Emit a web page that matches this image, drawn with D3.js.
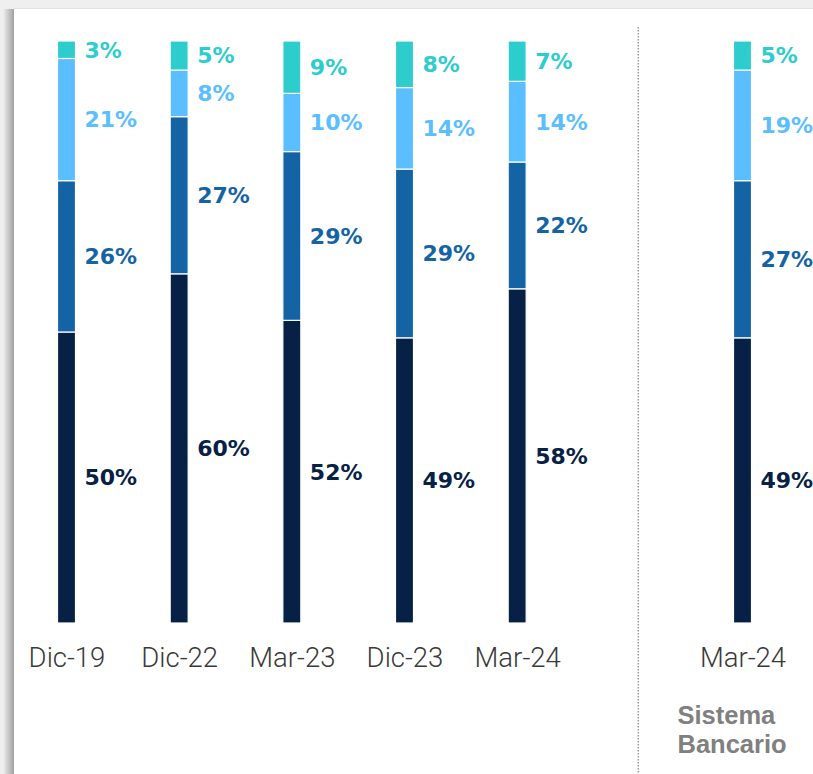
<!DOCTYPE html>
<html><head><meta charset="utf-8">
<script src="https://cdn.jsdelivr.net/npm/d3@7"></script>
<style>
html,body{margin:0;padding:0;background:#efefef;}
svg{display:block;}
</style></head>
<body>
<svg id="chart" width="813" height="774"></svg>
<script>
// Categories (keys) and their axis labels; "gap" is an empty slot before the banking-system bar
const categories = ["Dic-19", "Dic-22", "Mar-23", "Dic-23", "Mar-24", "gap", "SB-Mar-24"];
const tickLabels = ["Dic-19", "Dic-22", "Mar-23", "Dic-23", "Mar-24", "", "Mar-24"];
const barCategories = ["Dic-19", "Dic-22", "Mar-23", "Dic-23", "Mar-24", "SB-Mar-24"];
// Series values (%), bottom to top
const seriesKeys = ["s1", "s2", "s3", "s4"];
const s1 = [50, 60, 52, 49, 58, 49];
const s2 = [26, 27, 29, 29, 22, 27];
const s3 = [21, 8, 10, 14, 14, 19];
const s4 = [3, 5, 9, 8, 7, 5];
const groupTitle = ["Sistema", "Bancario"];

const colors = {s1: "#072146", s2: "#1464A5", s3: "#5BBEFF", s4: "#2DCCCD"};

const rows = barCategories.map((c, i) => ({cat: c, s1: s1[i], s2: s2[i], s3: s3[i], s4: s4[i]}));

const svg = d3.select("#chart");
const W = 813, H = 774;

// background frame: gray page with white panel + left shadow
const defs = svg.append("defs");
const grad = defs.append("linearGradient").attr("id", "shadow").attr("x1", 0).attr("x2", 1);
grad.append("stop").attr("offset", "0%").attr("stop-color", "#efefef");
grad.append("stop").attr("offset", "100%").attr("stop-color", "#a0a0a0");
svg.append("rect").attr("width", W).attr("height", H).attr("fill", "#efefef");
svg.append("rect").attr("x", 3).attr("y", 9).attr("width", 11).attr("height", H).attr("fill", "url(#shadow)");
svg.append("rect").attr("x", 14).attr("y", 9).attr("width", W).attr("height", H).attr("fill", "#fff");
svg.append("line").attr("x1", 14).attr("x2", W).attr("y1", 8.5).attr("y2", 8.5).attr("stroke", "#e2e2e2");

const x = d3.scalePoint().domain(categories).range([66.5, 742.5]);
const y = d3.scaleLinear().domain([0, 1]).range([623, 41]);
const barW = 18;

const stack = d3.stack().keys(seriesKeys).offset(d3.stackOffsetExpand);
const stacked = stack(rows);

const g = svg.append("g");
const layers = g.selectAll("g.layer").data(stacked).join("g").attr("class", "layer")
  .attr("fill", d => colors[d.key]);
layers.selectAll("rect").data(d => d).join("rect")
  .attr("x", d => x(d.data.cat) - barW / 2)
  .attr("width", barW)
  .attr("y", d => y(d[1]))
  .attr("height", d => y(d[0]) - y(d[1]))
  .attr("stroke", "#fff")
  .attr("stroke-width", 1.2);

// value labels
const lab = g.selectAll("g.lab").data(stacked).join("g").attr("class", "lab")
  .attr("fill", d => colors[d.key]);
lab.selectAll("text").data(d => d.map(v => ({v, key: d.key}))).join("text")
  .attr("x", d => x(d.v.data.cat) + barW / 2 + 9)
  .attr("y", d => (y(d.v[0]) + y(d.v[1])) / 2)
  .attr("dy", "0.36em")
  .attr("font-family", "'DejaVu Sans', sans-serif")
  .attr("font-weight", "bold")
  .attr("font-size", 22)
  .text(d => d.v.data[d.key] + "%");

// x axis
const axis = d3.axisBottom(x).tickSize(0).tickPadding(0)
  .tickFormat((d, i) => tickLabels[i]);
const ax = svg.append("g").attr("transform", "translate(0,633)").call(axis);
ax.select(".domain").remove();
ax.selectAll("text")
  .attr("dy", "0")
  .attr("y", 34)
  .attr("fill", "#3a3a3a")
  .attr("font-family", "'Roboto', sans-serif")
  .attr("font-size", 27.5)
  .attr("font-weight", 300);

// divider between own data and banking system
const gapX = (x("gap") + x("SB-Mar-24")) / 2 - x.step() / 2 + 8.5;
svg.append("line")
  .attr("x1", gapX).attr("x2", gapX)
  .attr("y1", 27).attr("y2", H)
  .attr("stroke", "#9a9a9a").attr("stroke-width", 1.5)
  .attr("stroke-dasharray", "1.5,1.5");

// group title
const t = svg.append("text")
  .attr("font-family", "'Liberation Sans', Arial, sans-serif")
  .attr("font-weight", "bold")
  .attr("font-size", 25.5)
  .attr("fill", "#808080");
t.selectAll("tspan").data(groupTitle).join("tspan")
  .attr("x", x("SB-Mar-24") - 65)
  .attr("y", (d, i) => 724 + i * 29)
  .text(d => d);
</script>
</body></html>
